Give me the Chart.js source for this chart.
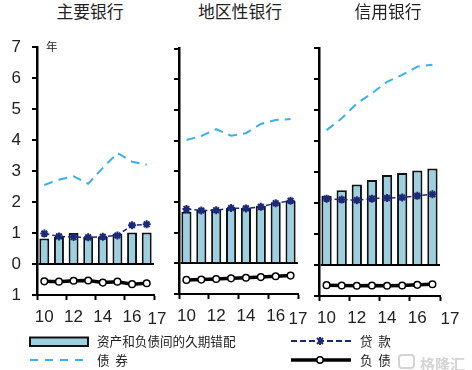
<!DOCTYPE html>
<html>
<head>
<meta charset="utf-8">
<script src="https://cdn.jsdelivr.net/npm/chart.js@4"></script>
<style>
  html, body { margin: 0; padding: 0; background: #fff; }
  #page { position: relative; width: 472px; height: 370px; overflow: hidden; font-family: "Liberation Sans", sans-serif; color: #222; }
  canvas { position: absolute; }
  .txt { position: absolute; white-space: nowrap; line-height: 1; }
  .title { font: 16.8px "Noto Sans CJK SC", sans-serif; transform: translateX(-50%); line-height: 20px; top: 1px; }
  .last { font-size: 17px; transform: translateX(-50%); top: 310px; }
  .leg { font: 12.6px "Noto Sans CJK SC", sans-serif; line-height: 16px; }
  svg { position: absolute; }
</style>
</head>
<body>
<div id="page">
  <canvas id="c0" width="170" height="290" style="left:0;top:40px"></canvas>
  <canvas id="c1" width="142" height="290" style="left:170px;top:40px"></canvas>
  <canvas id="c2" width="142" height="290" style="left:310px;top:40px"></canvas>

  <div class="txt title" style="left:90px">主要银行</div>
  <div class="txt title" style="left:240px">地区性银行</div>
  <div class="txt title" style="left:388px">信用银行</div>
  <div class="txt" style="left:46px;top:38px;font:11.5px 'Noto Sans CJK SC',sans-serif">年</div>
  <div class="txt last" style="left:157px">17</div>
  <div class="txt last" style="left:298px">17</div>
  <div class="txt last" style="left:450px">17</div>

  <!-- legend -->
  <svg style="left:0;top:330px" width="472" height="40">
    <rect x="30" y="7.5" width="58" height="8.5" fill="#9CCFE0" stroke="#111" stroke-width="2"></rect>
    <line x1="30" y1="30" x2="86" y2="30" stroke="#3DB0EA" stroke-width="2" stroke-dasharray="8,7"></line>
    <line x1="291" y1="11" x2="351" y2="11" stroke="#1B2A78" stroke-width="2" stroke-dasharray="6,3"></line>
    <path d="M317 8l6 6M323 8l-6 6M320 7v8" stroke="#1B2A78" stroke-width="2"></path>
    <line x1="291" y1="30" x2="351" y2="30" stroke="#000" stroke-width="3.5"></line>
    <circle cx="320" cy="30" r="3.2" fill="#fff" stroke="#000" stroke-width="1.5"></circle>
  </svg>
  <div class="txt leg" style="left:97px;top:333px">资产和负债间的久期错配</div>
  <div class="txt leg" style="left:97px;top:352px">债&nbsp;&nbsp;券</div>
  <div class="txt leg" style="left:360px;top:333px">贷&nbsp;&nbsp;款</div>
  <div class="txt leg" style="left:360px;top:352px">负&nbsp;&nbsp;债</div>
  <div class="txt" style="left:420px;top:353px;font:bold 15px 'Noto Sans CJK SC',sans-serif;color:#d4d4d4">格隆汇</div>
  <svg style="left:397px;top:353px" width="20" height="17"><rect x="2" y="2" width="15" height="13" rx="3" fill="none" stroke="#d4d4d4" stroke-width="2"></rect></svg>
</div>

<script>
const years = ['10', '11', '12', '13', '14', '15', '16', '17'];

// 主要银行
const mismatchMajor = [0.82, 0.87, 1.0, 0.87, 0.89, 0.98, 1.02, 1.02];
const loansMajor = [0.98, 0.89, 0.87, 0.86, 0.88, 0.92, 1.25, 1.28];
const bondsMajor = [2.55, 2.72, 2.83, 2.59, 3.1, 3.58, 3.3, 3.2];
const liabsMajor = [-0.56, -0.57, -0.54, -0.53, -0.6, -0.57, -0.65, -0.62];

// 地区性银行
const mismatchRegional = [1.68, 1.74, 1.77, 1.8, 1.8, 1.87, 1.99, 2.04];
const loansRegional = [1.77, 1.72, 1.73, 1.8, 1.79, 1.84, 1.96, 2.04];
const bondsRegional = [4.02, 4.15, 4.37, 4.16, 4.24, 4.54, 4.67, 4.7];
const liabsRegional = [-0.54, -0.53, -0.51, -0.49, -0.47, -0.45, -0.42, -0.4];

// 信用银行
const mismatchShinkin = [2.23, 2.41, 2.6, 2.74, 2.9, 2.97, 3.05, 3.11];
const loansShinkin = [2.14, 2.11, 2.09, 2.14, 2.16, 2.18, 2.23, 2.28];
const bondsShinkin = [4.35, 4.73, 5.21, 5.54, 5.91, 6.13, 6.4, 6.46];
const liabsShinkin = [-0.65, -0.66, -0.67, -0.66, -0.67, -0.66, -0.64, -0.62];

const labelColor = '#222';

function makePanel(id, mismatch, loans, bonds, liabs, axisWidth, pad, showY) {
  new Chart(document.getElementById(id).getContext('2d'), {
    type: 'bar',
    data: {
      labels: years,
      datasets: [
        { type: 'line', label: '负债', data: liabs, order: 1, borderColor: '#000', borderWidth: 3.5,
          pointRadius: 3.3, pointBackgroundColor: '#fff', pointBorderColor: '#000', pointBorderWidth: 1.5, tension: 0 },
        { type: 'line', label: '贷款', data: loans, order: 2, borderColor: '#1B2A78', borderWidth: 1.5, borderDash: [5, 3],
          pointStyle: 'star', pointRadius: 4, pointBorderColor: '#1B2A78', pointBorderWidth: 2, tension: 0 },
        { type: 'line', label: '债券', data: bonds, order: 3, borderColor: '#3DB0EA', borderWidth: 2, borderDash: [9, 6],
          pointRadius: 0, tension: 0 },
        { label: '资产和负债间的久期错配', data: mismatch, order: 4, backgroundColor: '#9CCFE0', borderColor: '#111',
          borderWidth: 2, categoryPercentage: 1, barPercentage: 0.68 }
      ]
    },
    options: {
      responsive: false,
      animation: false,
      layout: { padding: pad },
      plugins: { legend: { display: false }, tooltip: { enabled: false }, title: { display: false } },
      scales: {
        x: {
          afterFit: s => { s.height = pad.axis; s.paddingLeft = 0; s.paddingRight = 0; },
          border: { color: '#000', width: 2 },
          grid: {
            drawOnChartArea: false,
            tickLength: 5,
            tickWidth: 2,
            // ticks every two years, last one sits on the right end
            tickColor: c => (c.index === undefined || c.index % 2 === 0) ? '#000' : 'rgba(0,0,0,0)'
          },
          ticks: {
            autoSkip: false, maxRotation: 0, padding: 7, color: labelColor,
            font: { size: 17, family: '"Liberation Sans"' },
            callback: (v, i) => (i % 2 === 0 ? years[i] : '')
          }
        },
        y: {
          min: -1,
          max: 7,
          afterFit: s => { s.width = axisWidth; s.paddingTop = 0; s.paddingBottom = 0; },
          border: { color: '#000', width: 2.5 },
          grid: {
            tickLength: 5,
            tickWidth: 2,
            tickColor: '#000',
            lineWidth: 2,
            color: c => (c.tick && c.tick.value === 0 ? '#000' : 'rgba(0,0,0,0)')
          },
          ticks: {
            stepSize: 1, padding: 11, color: labelColor,
            font: { size: 17, family: '"Liberation Sans"' },
            callback: v => (showY ? String(Math.abs(v)) : '')
          }
        }
      }
    }
  });
}

makePanel('c0', mismatchMajor, loansMajor, bondsMajor, liabsMajor, 37, { top: 7, right: 16, bottom: 0, left: 0, axis: 35 }, true);
makePanel('c1', mismatchRegional, loansRegional, bondsRegional, liabsRegional, 9, { top: 8.5, right: 14, bottom: 0, left: 0, axis: 36 }, false);
makePanel('c2', mismatchShinkin, loansShinkin, bondsShinkin, liabsShinkin, 9, { top: 8, right: 12, bottom: 0, left: 0, axis: 34 }, false);
</script>
</body>
</html>
